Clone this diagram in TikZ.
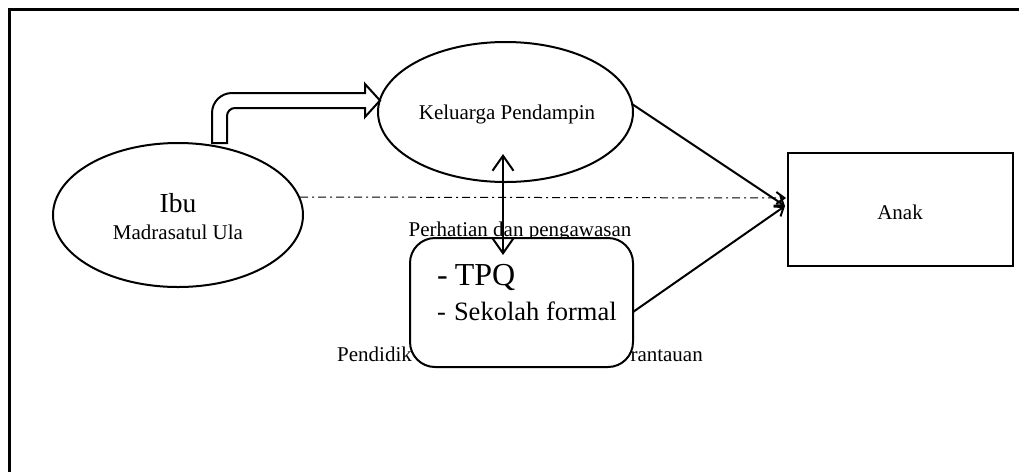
\documentclass[tikz,border=0pt]{standalone}
\usepackage{fontspec}
\setmainfont{Liberation Serif}
\usetikzlibrary{shapes.geometric,arrows.meta}
\begin{document}
\begin{tikzpicture}[x=1pt,y=-1pt,line join=miter,
  shp/.style={draw,line width=2pt,inner sep=0pt},
  lbl/.style={inner sep=0pt,anchor=base,font=\fontsize{21}{25}\selectfont},
  conn/.style={line width=2pt,-{Straight Barb[length=8pt,width=12pt]}},
  dashdot/.style={line width=1pt,dash pattern=on 8pt off 4pt on 2pt off 4pt,-{Straight Barb[length=8pt,width=12pt,line width=2pt]}}]
\useasboundingbox (0,0) rectangle (1019,472);
% frame
\draw[line width=2.5pt] (9.5,472) -- (9.5,9.5) -- (1019,9.5);
% shapes
\node[shp,ellipse,minimum width=250pt,minimum height=144pt] (ibu) at (178,215) {};
\node[shp,ellipse,minimum width=255pt,minimum height=140pt] (kel) at (505.5,112) {};
\node[shp,minimum width=225pt,minimum height=113pt] (anak) at (900.5,209.5) {};
% texts
\node[lbl,font=\fontsize{27.5}{30}\selectfont] (tibu) at (178,212) {Ibu};
\node[lbl] (tmad) at (178,239) {Madrasatul Ula};
\node[lbl] (tkel) at (507,119) {Keluarga Pendampin};
\node[lbl] (tanak) at (900,219) {Anak};
\node[lbl] (tper) at (520,236) {Perhatian dan pengawasan};
\node[lbl,anchor=base west] (tpen1) at (337,361) {Pendidik};
\node[lbl,anchor=base east] (tpen2) at (703,361) {rantauan};
% rounded box
\node[shp,fill=white,rounded corners=25pt,minimum width=223pt,minimum height=129pt] (tpq) at (521.5,302.5) {};
\node[inner sep=0pt,anchor=base west,font=\fontsize{32}{36}\selectfont] (t1) at (437,285) {-\hspace{7pt}TPQ};
\node[inner sep=0pt,anchor=base west,font=\fontsize{26.5}{30}\selectfont] (t2) at (437,320) {-\hspace{8pt}Sekolah formal};
% coordinates
\coordinate (ak) at (785,206);
\coordinate (akd) at (786,198);
\coordinate (ibr) at (300,197);
\coordinate (kr) at (632,104);
\coordinate (tr) at (633,312);
\coordinate (up) at (503,154);
\coordinate (dn) at (503,255);
% connectors
\draw[dashdot] (ibr) -- (akd);
\draw[conn] (kr) -- (ak);
\draw[conn] (tr) -- (ak);
\draw[line width=2pt,{Straight Barb[length=15pt,width=21pt]}-{Straight Barb[length=15pt,width=21pt]}] (up) -- (dn);
% bent block arrow
\draw[line width=2pt,fill=white] (212,143) -- (212,113) arc[start angle=180,end angle=270,radius=20] -- (365,93) -- (365,84) -- (380,100.5) -- (365,117) -- (365,108) -- (235,108) arc[start angle=270,end angle=180,radius=8] -- (227,143) -- cycle;
\end{tikzpicture}
\end{document}
